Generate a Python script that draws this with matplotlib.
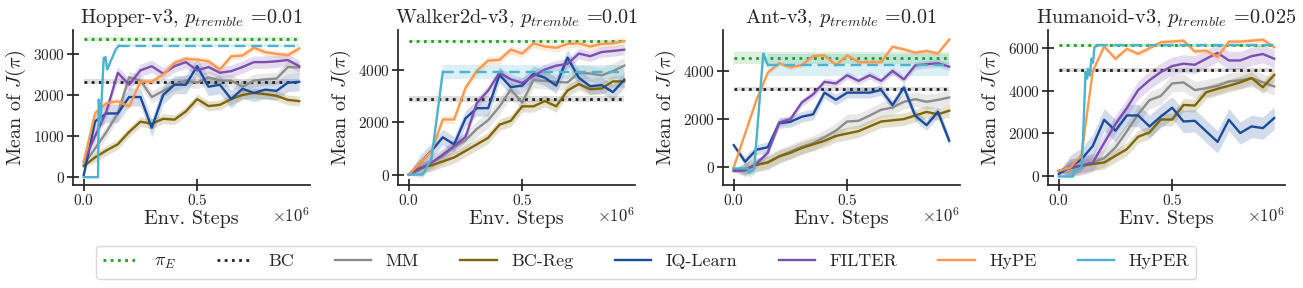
import numpy as np
import matplotlib
matplotlib.use("Agg")
import matplotlib.pyplot as plt
from matplotlib.ticker import MultipleLocator

plt.rcParams.update({
    "font.family": "serif",
    "font.serif": ["cmr10"],
    "mathtext.fontset": "cm",
    "axes.formatter.use_mathtext": True,
    "axes.unicode_minus": False,
    "font.size": 11,
})

# ---------------- data ----------------
STEPS = [0.00, 0.05, 0.10, 0.15, 0.20, 0.25, 0.30, 0.35, 0.40, 0.45,
         0.50, 0.55, 0.60, 0.65, 0.70, 0.75, 0.80, 0.85, 0.90, 0.95]  # x1e6

TITLES = ["Hopper-v3, $p_{tremble}$ =0.01",
          "Walker2d-v3, $p_{tremble}$ =0.01",
          "Ant-v3, $p_{tremble}$ =0.01",
          "Humanoid-v3, $p_{tremble}$ =0.025"]

EXPERT = [3360, 5100, 4520, 6100]
EXPERT_STD = [50, 30, 250, 60]
BC = [2320, 2880, 3240, 4950]
BC_STD = [60, 120, 80, 100]

# Hopper
HOP_MM = [300, 700, 1100, 1550, 2430, 2350, 1950, 2100, 2250, 2350,
          2300, 2430, 2350, 2350, 2200, 2350, 2380, 2400, 2680, 2670]
HOP_BCREG = [270, 480, 650, 800, 1100, 1350, 1300, 1420, 1400, 1600,
             1900, 1730, 1760, 1900, 2000, 2050, 2020, 1980, 1880, 1850]
HOP_IQ = [50, 1360, 1550, 1550, 1950, 1950, 1200, 2000, 2250, 2250,
          2700, 2200, 2250, 1900, 2150, 2050, 2130, 2100, 2300, 2320]
HOP_FILTER = [380, 1000, 1600, 2540, 2250, 2600, 2700, 2520, 2700, 2800,
              2600, 2680, 2540, 2580, 2680, 2800, 2800, 2820, 2850, 2700]
HOP_HYPE = [380, 1560, 1800, 1845, 1720, 2330, 2320, 2500, 2780, 2880,
            2860, 2820, 2620, 2940, 2960, 3150, 3040, 3000, 2970, 3130]
HOP_HYPER_X = [0, 0.063, 0.066, 0.074, 0.088, 0.096, 0.103, 0.110, 0.118, 0.125, 0.140, 0.154]
HOP_HYPER = [0, 0, 1890, 1360, 2900, 2920, 2620, 2700, 2820, 2900, 3100, 3200]

# Walker2d
WAL_MM = [0, 250, 450, 700, 1040, 1300, 1740, 2070, 2590, 3240,
          2740, 3600, 3570, 3530, 3510, 3880, 3850, 3780, 3940, 4150]
WAL_BCREG = [0, 250, 350, 500, 650, 900, 1150, 1400, 1900, 2050,
             2600, 2600, 2800, 2600, 3200, 3450, 3250, 3280, 3550, 3550]
WAL_IQ = [0, 450, 900, 1420, 1150, 2140, 2530, 2530, 3800, 3330,
          3390, 3840, 3690, 3390, 4460, 3690, 3360, 3410, 3140, 3610]
WAL_FILTER = [0, 210, 450, 760, 1090, 1430, 2720, 3200, 3880, 3630,
              3490, 3760, 4000, 4150, 4220, 4610, 4510, 4670, 4710, 4760]
WAL_HYPE = [0, 450, 880, 2100, 2100, 3300, 3950, 4340, 4370, 4760,
            4610, 5000, 4880, 4830, 4980, 5000, 4880, 4980, 5000, 5080]
WAL_HYPER_X = [0, 0.062, 0.100, 0.150]
WAL_HYPER = [0, 0, 600, 3920]

# Ant
ANT_MM = [-150, -100, 100, 200, 450, 650, 850, 1000, 1250, 1520,
          1900, 1930, 2150, 2390, 2480, 2720, 2830, 2720, 2800, 2900]
ANT_BCREG = [-100, -80, 100, 200, 450, 600, 800, 950, 1100, 1300,
             1400, 1500, 1700, 1900, 1950, 2000, 2150, 2300, 2200, 2350]
ANT_IQ = [920, 230, 730, 830, 1830, 1890, 2100, 2200, 3100, 2800,
          3100, 3100, 3100, 3210, 2580, 3310, 2140, 1750, 2300, 1100]
ANT_FILTER = [-160, -140, 150, 600, 1860, 2000, 2690, 3030, 3550, 3480,
              3820, 3590, 3820, 3590, 4000, 3650, 4230, 4280, 4320, 4180]
ANT_HYPE = [0, 1400, 2800, 3930, 4320, 4150, 4250, 4620, 4650, 4250,
            4650, 4370, 4370, 4370, 5010, 4900, 4760, 4830, 4730, 5310]
ANT_HYPER_X = [0, 0.062, 0.066, 0.080, 0.090, 0.130, 0.150]
ANT_HYPER = [-50, -50, -220, -150, -50, 4720, 4250]

# Humanoid
HUM_MM = [250, 400, 500, 650, 850, 1350, 2100, 2900, 3550, 3750,
          4330, 4380, 4020, 4110, 4220, 4420, 4480, 4580, 4380, 4190]
HUM_BCREG = [260, 390, 500, 580, 650, 960, 1270, 1850, 2050, 2650,
             2650, 3330, 3300, 3920, 4080, 4220, 4380, 4580, 4150, 4730]
HUM_IQ = [110, 450, 800, 1420, 2640, 2130, 2840, 2840, 2330, 2790,
          3200, 2560, 2590, 2100, 1610, 2640, 2020, 2330, 2250, 2720]
HUM_FILTER = [250, 400, 500, 650, 1560, 2440, 3180, 4020, 4480, 4860,
              5140, 5250, 5200, 5480, 5750, 5400, 5400, 5600, 5700, 5480]
HUM_HYPE = [260, 410, 1000, 4900, 6050, 5480, 5940, 5710, 5970, 6250,
            6280, 6320, 5820, 5860, 5560, 6280, 6280, 6320, 6370, 6020]
HUM_HYPER_X = [0, 0.063, 0.066, 0.100, 0.107, 0.118, 0.125, 0.129, 0.137, 0.144, 0.151, 0.157, 0.169]
HUM_HYPER = [0, 0, 260, 410, 1800, 4860, 4560, 5000, 4700, 5480, 5300, 6000, 6100]

# band half-widths (std) per panel: MM, BC-Reg, IQ-Learn, FILTER, HyPE, HyPER
HOP_STD = [150, 120, 220, 150, 80, 40]
WAL_STD = [300, 220, 300, 200, 160, 260]
ANT_STD = [300, 260, 220, 160, 100, 450]
HUM_STD = [400, 300, 520, 420, 120, 80]
# std at the first evaluation (near zero for every method)
INIT_STD = 30

LABELS = ["$\\pi_E$", "BC", "MM", "BC-Reg", "IQ-Learn", "FILTER", "HyPE", "HyPER"]
COLORS = ["#1fa01f", "#222222", "#8c8c8c", "#7d6608", "#1c4b9a",
          "#7b4fb0", "#fd9a4f", "#4cb3cc"]

PANELS = [
    (HOP_MM, HOP_BCREG, HOP_IQ, HOP_FILTER, HOP_HYPE, HOP_HYPER_X, HOP_HYPER, HOP_STD),
    (WAL_MM, WAL_BCREG, WAL_IQ, WAL_FILTER, WAL_HYPE, WAL_HYPER_X, WAL_HYPER, WAL_STD),
    (ANT_MM, ANT_BCREG, ANT_IQ, ANT_FILTER, ANT_HYPE, ANT_HYPER_X, ANT_HYPER, ANT_STD),
    (HUM_MM, HUM_BCREG, HUM_IQ, HUM_FILTER, HUM_HYPE, HUM_HYPER_X, HUM_HYPER, HUM_STD),
]

# ---------------- plot ----------------
W, H = 1303, 288
fig = plt.figure(figsize=(W / 100, H / 100), dpi=100)
lefts = [73, 398, 723, 1048]
ax_w, ax_top, ax_bot = 237, 30, 185
TXT = "#262626"

x = np.array(STEPS) * 1e6
handles = None
for k, (mm, bcr, iq, flt, hype, hx, hyper, std) in enumerate(PANELS):
    ax = fig.add_axes([lefts[k] / W, 1 - ax_bot / H, ax_w / W, (ax_bot - ax_top) / H])
    hs = []
    for val, sd, c in [(EXPERT[k], EXPERT_STD[k], COLORS[0]), (BC[k], BC_STD[k], COLORS[1])]:
        yv = np.full_like(x, val, dtype=float)
        ax.fill_between(x, yv - sd, yv + sd, color=c, alpha=0.15, lw=0)
        h, = ax.plot(x, yv, ls=(0, (1, 1.6)), lw=2.0, color=c)
        hs.append(h)
    for j, ser in enumerate([mm, bcr, iq, flt, hype]):
        y = np.array(ser, dtype=float)
        c = COLORS[2 + j]
        band = np.full_like(y, std[j], dtype=float)
        band[0] = min(std[j], INIT_STD)
        ax.fill_between(x, y - band, y + band, color=c, alpha=0.2, lw=0)
        h, = ax.plot(x, y, color=c, lw=1.7)
        hs.append(h)
    # HyPER: solid while training, dashed at its final value afterwards
    c = COLORS[7]
    hxx = np.array(hx) * 1e6
    hy = np.array(hyper, dtype=float)
    hb = np.full_like(hy, std[5] * 0.5)
    hb[0] = min(hb[0], INIT_STD)
    ax.fill_between(hxx, hy - hb, hy + hb, color=c, alpha=0.2, lw=0)
    h, = ax.plot(hxx, hy, color=c, lw=1.7)
    hs.append(h)
    xd = np.array([hxx[-1], x[-1]])
    yd = np.array([hy[-1], hy[-1]])
    ax.fill_between(xd, yd - std[5], yd + std[5], color=c, alpha=0.2, lw=0)
    ax.plot(xd, yd, color=c, lw=1.7, ls=(0, (4.5, 2.5)))
    handles = hs

    ax.xaxis.set_major_locator(MultipleLocator(500000))
    ax.ticklabel_format(axis="x", style="sci", scilimits=(6, 6))
    ax.xaxis.get_offset_text().set_visible(False)
    ax.text(1.0, -0.2, "$\\times10^{6}$", transform=ax.transAxes,
            ha="right", va="center", fontsize=12, color=TXT)
    ax.spines["top"].set_visible(False)
    ax.spines["right"].set_visible(False)
    for s in ["left", "bottom"]:
        ax.spines[s].set_color(TXT)
        ax.spines[s].set_linewidth(1.25)
    ax.tick_params(direction="inout", length=8, width=1.25, colors=TXT,
                   labelsize=11, pad=2)
    ax.set_title(TITLES[k], fontsize=14.6, color=TXT, pad=5)
    ax.set_xlabel("Env. Steps", fontsize=14.5, color=TXT, labelpad=1)
    ax.set_ylabel("Mean of $J(\\pi)$", fontsize=14.5, color=TXT, labelpad=3)

leg = fig.legend(handles, LABELS, loc="center", bbox_to_anchor=(0.496, 0.0885),
                 ncol=8, frameon=True, fontsize=13, handlelength=2.0,
                 columnspacing=2.3, handletextpad=0.8, fancybox=True,
                 borderpad=0.4)
leg.get_frame().set_edgecolor("#d0d0d0")
for t in leg.get_texts():
    t.set_color(TXT)

fig.savefig("out.png", dpi=100)
